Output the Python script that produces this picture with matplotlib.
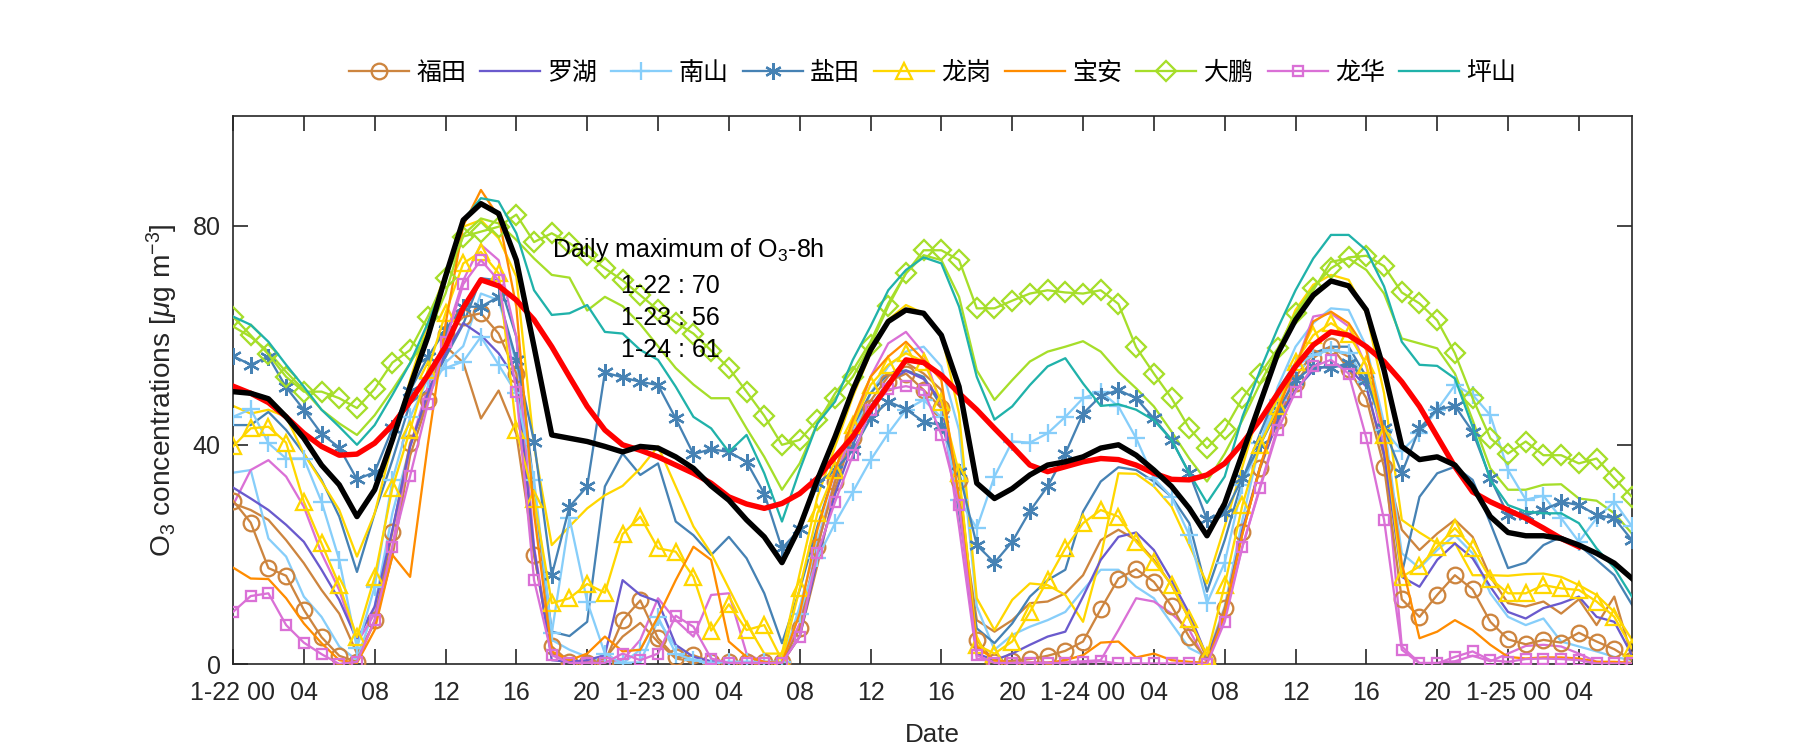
import numpy as np
import matplotlib
matplotlib.use("Agg")
import matplotlib.pyplot as plt

nan = np.nan
hours = list(range(80))

stations = ["福田", "罗湖", "南山", "盐田", "龙岗", "宝安", "大鹏", "龙华", "坪山"]

futian = [29.8, 25.8, 17.5, 16.1, 9.9, 4.9, 1.5, 0.4, 8.0, 24.1, 40.3, 48.1, 60.2, 63.3,
          64.0, 60.3, 53.0, 19.9, 3.2, 0.4, 0.2, 0.4, 8.0, 11.6, 4.7, 1.2, 1.6, 0.4,
          0.3, 0.3, 0.3, 0.3, 6.5, 21.4, 33.3, 41.2, 46.7, 51.5, 53.0, 50.0, 46.7,
          33.6, 4.4, 0.4, 0.6, 0.9, 1.5, 2.4, 4.1, 10.0, 15.6, 17.3, 15.0, 10.6, 4.9,
          0.7, 10.2, 24.1, 35.7, 44.5, 51.2, 55.8, 58.0, 53.8, 48.5, 35.9, 11.8, 8.6, 12.6,
          16.2, 13.6, 7.7, 4.5, 3.6, 4.4, 3.9, 5.7, 4.1, 2.7, 0.7]
luohu = [32.2, 30.2, 28.1, 25.4, 22.3, 17.2, 11.7, 4.4, 10.5, 24.5, 39.7, 49.4, 56.7, 62.2,
         60.0, 56.7, 51.8, 21.0, 0.7, 0.4, 0.7, 1.6, 15.3, 12.6, 11.4, 3.5, 1.3, 0.5,
         0.3, 0.3, 0.3, 0.3, 5.0, 19.0, 31.0, 40.0, 47.0, 51.5, 53.5, 52.0, 48.0,
         30.0, 1.9, 0.7, 1.9, 3.5, 5.0, 5.9, 12.3, 19.0, 23.2, 24.0, 20.8, 15.3, 9.2,
         1.3, 9.2, 24.5, 36.0, 44.5, 50.0, 53.6, 54.6, 54.0, 50.6, 38.4, 15.9, 14.1, 19.0,
         22.0, 19.3, 14.1, 9.5, 8.3, 10.2, 11.1, 12.3, 8.6, 7.7, 1.6]
nanshan = [45.1, 46.5, 40.3, 37.5, 37.5, 29.6, 19.0, 2.9, 14.1, 33.6, 45.0, 52.0, 54.0, 55.2,
           59.7, 54.6, 49.4, 33.6, 5.6, 26.6, 11.4, 1.9, 0.1, 2.6, 8.6, 1.9, 0.7, 0.2,
           0.4, 0.4, 0.4, 0.4, 9.2, 19.3, 25.7, 31.4, 37.2, 42.1, 46.4, 48.2, 45.0,
           30.0, 24.8, 34.2, 40.6, 40.4, 42.1, 45.1, 48.5, 49.7, 47.0, 41.2, 33.9, 30.5, 23.5,
           11.1, 18.5, 32.7, 40.3, 48.2, 54.3, 56.4, 57.3, 56.7, 51.5, 42.7, 38.9, 42.1, 46.4,
           50.9, 49.1, 45.4, 35.4, 30.0, 30.7, 26.6, 22.3, 26.6, 29.6, 25.1]
yantian = [56.2, 54.6, 56.1, 50.5, 46.4, 42.0, 39.5, 33.7, 35.0, 43.0, 49.9, 56.0, 61.0, 65.2,
           65.2, 67.0, 55.5, 40.6, 16.2, 28.7, 32.4, 53.2, 52.3, 51.5, 50.9, 44.8, 38.3, 39.2,
           38.7, 36.9, 31.1, 21.1, 24.6, 33.0, 35.4, 39.0, 44.8, 47.9, 46.5, 44.2, 43.6,
           35.0, 21.7, 18.5, 22.3, 27.9, 32.4, 38.4, 45.7, 48.9, 50.0, 48.5, 44.8, 40.9, 34.8,
           26.4, 27.5, 33.9, 40.0, 46.4, 51.8, 54.3, 54.0, 54.9, 51.8, 43.0, 34.8, 43.0, 46.4,
           47.1, 42.4, 33.9, 27.2, 27.2, 28.1, 29.6, 29.0, 27.2, 26.6, 22.6]
longgang = [39.7, 43.0, 43.3, 40.4, 29.6, 22.0, 14.4, 4.9, 15.9, 32.1, 42.7, 53.6, 64.0, 73.1,
            75.2, 71.3, 42.7, 30.2, 11.1, 12.0, 14.6, 13.0, 23.7, 26.9, 21.1, 20.5, 15.9, 6.1,
            10.9, 6.2, 7.1, 0.7, 13.8, 27.5, 35.4, 43.6, 50.9, 54.6, 56.7, 55.2, 47.9,
            34.8, 3.5, 1.9, 4.1, 9.5, 15.3, 21.1, 25.7, 28.1, 26.9, 22.3, 18.7, 14.4, 8.2,
            1.5, 14.4, 29.0, 40.0, 47.0, 55.2, 60.0, 62.2, 60.2, 54.6, 41.8, 15.9, 17.8, 21.4,
            24.8, 21.1, 15.6, 12.9, 12.9, 14.4, 13.8, 13.5, 11.4, 8.6, 2.9]
baoan = [17.6, 15.6, 15.5, 12.0, 7.4, 3.8, 0.7, 0.2, 6.2, 19.9, 15.9, 40.0, 62.0, 80.0,
         86.5, 81.6, 65.2, 27.5, 2.3, 0.7, 1.9, 5.0, 2.3, 2.6, 8.6, 15.3, 21.4, 19.0,
         4.1, 1.3, 0.4, 0.2, 9.2, 24.5, 35.4, 44.5, 52.4, 56.1, 58.8, 55.5, 51.8,
         30.0, 3.2, 0.7, 0.2, 0.2, 0.2, 0.7, 1.6, 3.9, 4.1, 1.2, 1.9, 0.7, 0.4,
         0.2, 9.2, 23.8, 36.0, 46.4, 54.3, 62.5, 64.3, 62.2, 57.3, 42.1, 18.4, 4.7, 5.9,
         8.0, 6.2, 3.5, 1.3, 1.0, 1.2, 1.2, 1.0, 0.4, 0.4, 0.2]
dapeng = [63.4, 60.0, 56.5, 52.4, 49.7, 49.7, 48.5, 46.7, 50.2, 55.0, 57.3, 63.4, 70.4, 78.0,
          78.9, 79.8, 82.0, 77.0, 78.6, 76.8, 74.6, 72.2, 70.0, 67.3, 64.6, 62.3, 60.3, 57.2,
          54.0, 49.7, 45.3, 40.0, 40.9, 44.5, 48.5, 52.4, 58.2, 65.3, 71.3, 75.5, 75.5,
          73.7, 64.9, 64.9, 66.3, 67.6, 68.2, 67.8, 67.6, 68.2, 65.7, 57.8, 53.0, 48.5, 43.0,
          39.4, 42.8, 48.5, 52.9, 57.6, 64.0, 68.7, 72.2, 74.2, 74.5, 72.6, 67.8, 65.8, 62.7,
          56.7, 48.5, 41.2, 38.4, 40.6, 38.1, 38.1, 36.6, 37.5, 33.9, 30.5]
longhua = [9.5, 12.4, 12.9, 7.1, 3.9, 1.8, 0.0, 0.4, 8.0, 21.4, 34.3, 47.4, 58.8, 69.3,
           73.7, 70.0, 49.7, 15.3, 1.6, 0.2, 0.2, 0.2, 1.9, 0.7, 1.9, 8.8, 6.8, 1.0,
           0.2, 0.2, 0.2, 0.2, 5.0, 20.2, 29.6, 38.1, 46.4, 50.1, 50.7, 50.0, 41.8,
           29.0, 1.6, 0.2, 0.2, 0.2, 0.2, 0.2, 0.3, 0.5, 0.1, 0.1, 0.1, 0.1, 0.1,
           0.0, 7.7, 21.4, 32.1, 42.7, 49.7, 54.3, 55.5, 53.0, 41.2, 26.3, 2.6, 0.1, 0.1,
           1.3, 2.3, 0.7, 0.4, 0.9, 1.0, 0.9, 0.7, 0.1, 0.1, 0.1]
pingshan = [63.4, 61.9, 58.8, 54.6, 50.6, 46.4, 43.3, 40.0, 43.6, 49.1, 54.9, 62.2, 70.0, 81.0,
            85.0, 84.4, 78.6, 68.2, 63.7, 64.0, 65.5, 60.6, 60.3, 57.3, 55.5, 50.6, 45.1, 43.0,
            38.7, 41.8, 34.8, 26.0, 35.4, 43.9, 47.9, 55.5, 61.6, 68.2, 71.9, 74.2, 73.1,
            65.2, 52.4, 44.6, 47.0, 50.9, 54.3, 55.8, 51.2, 47.1, 47.4, 46.4, 44.5, 40.9, 34.8,
            29.4, 34.2, 45.1, 53.6, 61.3, 68.2, 74.0, 78.3, 78.3, 75.5, 68.9, 58.8, 54.6, 54.4,
            52.1, 43.3, 33.6, 29.0, 27.8, 27.5, 27.5, 25.7, 21.1, 17.5, 12.3]

# second (unmarked) set of curves, same colours
futian_b = [29.3, 28.1, 26.3, 22.6, 18.4, 13.5, 9.2, 1.9, 7.4, 19.6, 38.0, 48.0, 58.0, 55.0,
            44.8, 49.9, 42.0, 20.0, 2.0, 0.5, 0.3, 1.0, 5.0, 7.5, 4.0, 1.0, 0.5, 0.3,
            0.2, 0.2, 0.2, 0.2, 5.0, 18.0, 32.0, 42.0, 48.0, 52.5, 55.0, 53.0, 50.0,
            30.0, 8.0, 5.9, 8.0, 11.1, 11.4, 12.9, 16.2, 22.6, 24.5, 22.6, 19.0, 14.4, 8.2,
            1.0, 9.2, 23.8, 36.0, 45.7, 52.4, 56.7, 57.6, 56.1, 50.6, 37.8, 24.5, 20.8, 23.8,
            26.3, 23.2, 15.9, 11.1, 10.5, 11.4, 9.2, 11.8, 7.1, 12.3, 1.3]
nanshan_b = [34.9, 35.4, 22.9, 19.6, 12.3, 8.6, 3.2, 0.7, 10.5, 27.5, 39.7, 48.8, 55.0, 58.0,
             67.6, 66.4, 54.9, 30.0, 4.4, 2.6, 1.3, 0.3, 0.2, 0.3, 8.0, 3.2, 0.5, 0.2,
             0.2, 0.2, 0.2, 0.2, 10.5, 22.6, 33.6, 42.1, 49.4, 54.3, 57.0, 57.9, 54.3,
             42.7, 10.5, 2.6, 5.3, 6.8, 8.0, 9.5, 13.5, 17.2, 17.2, 14.1, 12.0, 7.4, 2.9,
             1.3, 10.5, 26.3, 40.3, 50.6, 57.9, 62.2, 64.9, 64.6, 57.9, 43.9, 20.2, 17.5, 20.8,
             23.5, 20.2, 12.9, 8.6, 7.1, 8.3, 4.1, 3.2, 2.3, 1.3, 0.7]
yantian_b = [43.6, 43.6, 46.0, 42.7, 38.4, 33.6, 26.9, 16.8, 27.5, 37.2, 47.6, 50.0, 56.0, 62.0,
             70.4, 70.0, 59.7, 32.0, 5.9, 5.1, 7.7, 32.4, 38.4, 34.5, 36.6, 26.0, 23.5, 19.9,
             23.2, 19.3, 12.9, 3.8, 13.5, 25.1, 35.4, 43.3, 49.4, 53.0, 53.6, 52.4, 47.0,
             27.5, 6.5, 3.8, 7.4, 12.3, 15.3, 17.2, 27.8, 33.3, 35.9, 35.4, 33.3, 30.5, 25.7,
             13.2, 22.6, 33.6, 42.1, 50.0, 54.9, 56.7, 57.9, 57.9, 52.4, 42.1, 16.5, 30.5, 34.8,
             36.0, 33.6, 25.7, 17.5, 18.5, 21.7, 23.2, 21.7, 19.0, 16.2, 10.8]
longgang_b = [47.1, 45.7, 46.4, 45.1, 38.4, 33.3, 28.1, 19.6, 27.5, 40.3, 51.8, 62.2, 71.3, 79.8,
              81.0, 77.7, 70.7, 39.7, 21.7, 25.1, 28.4, 30.8, 32.5, 35.7, 39.7, 32.4, 25.1, 20.2,
              13.8, 7.4, 1.9, 1.9, 16.5, 30.5, 39.7, 48.8, 56.7, 62.8, 65.5, 64.0, 60.3,
              45.7, 12.0, 6.2, 11.7, 14.7, 14.4, 12.6, 7.7, 19.6, 34.8, 34.7, 32.4, 28.7, 21.7,
              14.7, 25.1, 36.0, 47.0, 57.0, 64.6, 69.2, 71.0, 70.1, 64.0, 49.4, 26.3, 24.0, 22.0,
              22.1, 16.2, 16.2, 16.1, 16.4, 16.5, 15.9, 14.4, 12.6, 9.5, 4.4]
dapeng_b = [61.6, 59.7, 57.0, 53.3, 50.0, 46.4, 43.9, 41.8, 45.4, 50.0, 54.9, 60.3, 67.6, 78.3,
            81.3, 80.4, 77.4, 74.0, 71.0, 70.5, 64.5, 67.0, 65.3, 62.0, 58.0, 54.0, 51.0, 48.5,
            48.5, 43.0, 37.8, 31.8, 36.6, 43.9, 49.4, 53.6, 58.8, 65.8, 71.3, 74.6, 73.7,
            67.0, 53.6, 48.2, 51.8, 55.2, 57.0, 57.9, 58.9, 57.0, 53.3, 50.3, 47.0, 42.4, 37.5,
            33.3, 38.4, 44.5, 51.2, 57.3, 63.4, 68.2, 73.4, 74.0, 71.9, 67.6, 59.4, 58.5, 57.6,
            53.0, 44.5, 35.7, 31.8, 31.8, 32.7, 32.8, 30.2, 29.8, 27.5, 23.8]
longhua_b = [29.0, 35.4, 37.2, 34.2, 28.7, 20.2, 13.5, 3.8, 9.2, 21.4, 39.7, 50.6, 59.7, 70.0,
             76.5, 73.7, 59.7, 21.4, 1.9, 0.3, 0.3, 0.5, 0.7, 4.4, 12.0, 8.0, 5.0, 12.6,
             12.9, 1.9, 0.3, 0.3, 7.4, 21.4, 33.6, 43.3, 52.4, 58.5, 60.6, 56.7, 47.0,
             25.0, 1.0, 0.3, 0.3, 0.3, 0.3, 0.3, 0.5, 0.7, 6.2, 12.0, 11.4, 9.2, 6.2,
             0.2, 8.6, 21.4, 32.4, 43.3, 54.3, 63.4, 64.0, 61.6, 54.3, 39.7, 3.2, 0.2, 0.2,
             0.5, 1.5, 0.5, 1.9, 3.3, 3.5, 3.2, 1.9, 0.4, 0.2, 0.2]

# city average and its 8-h running mean
city_mean = [49.7, 49.4, 48.4, 45.1, 41.2, 36.3, 32.7, 26.9, 31.8, 40.9, 50.6, 59.7, 70.7, 81.0,
             84.0, 82.2, 73.7, 57.9, 41.8, 41.2, 40.6, 39.7, 38.7, 39.7, 39.4, 37.8, 35.7, 32.5,
             29.9, 26.3, 23.2, 18.5, 25.0, 33.6, 41.5, 50.0, 57.3, 62.5, 64.6, 64.0, 60.0,
             50.6, 33.0, 30.2, 32.0, 34.5, 36.3, 36.9, 37.8, 39.4, 40.0, 38.1, 35.4, 32.4, 28.4,
             23.4, 29.3, 38.4, 47.6, 56.7, 62.8, 67.3, 69.9, 69.0, 64.6, 53.6, 39.7, 37.3, 37.8,
             36.3, 32.4, 26.9, 24.0, 23.4, 23.4, 22.9, 21.7, 20.2, 18.4, 15.6]
o3_8h = [50.7, 49.4, 47.7, 45.1, 42.1, 39.7, 38.1, 38.3, 40.3, 43.6, 47.9, 52.7, 57.9, 65.0,
         70.1, 69.0, 66.4, 62.8, 57.9, 52.4, 47.0, 42.7, 40.0, 39.0, 37.8, 36.3, 34.8, 33.0,
         30.5, 29.2, 28.4, 29.3, 31.1, 33.9, 37.8, 41.5, 46.4, 50.9, 55.5, 55.0, 52.7,
         49.4, 46.4, 43.0, 39.7, 36.3, 35.1, 36.0, 36.9, 37.5, 37.3, 36.3, 34.8, 33.7, 33.6,
         34.5, 36.6, 40.3, 44.5, 49.4, 54.3, 58.2, 60.6, 60.0, 57.9, 55.2, 51.5, 47.0, 41.5,
         36.0, 31.4, 29.6, 28.1, 26.6, 24.8, 22.9, 21.4, nan, nan, nan]

daily_max_days = ["1-22", "1-23", "1-24"]
daily_max_vals = [70, 56, 61]

tick_hours = list(range(0, 80, 4))
tick_labels = [f"1-{22 + h // 24} 00" if h % 24 == 0 else f"{h % 24:02d}" for h in tick_hours]

# ---------------- styling ----------------
plt.rcParams['font.family'] = ['Liberation Sans', 'Noto Sans CJK SC', 'DejaVu Sans']
plt.rcParams['mathtext.fontset'] = 'custom'
plt.rcParams['mathtext.rm'] = 'Liberation Sans'
plt.rcParams['mathtext.it'] = 'Liberation Sans:italic'
plt.rcParams['mathtext.bf'] = 'Liberation Sans:bold'
plt.rcParams['font.size'] = 12

col = {"福田": "#CD853F", "罗湖": "#6A5ACD", "南山": "#87CEFA", "盐田": "#4682B4",
       "龙岗": "#FFD700", "宝安": "#FF8C00", "大鹏": "#A6DE2A", "龙华": "#DA70D6",
       "坪山": "#20B2AA"}
mk = {"福田": ("o", 7.5), "罗湖": (None, 0), "南山": ("+", 9), "盐田": ((6, 2, 0), 8),
      "龙岗": ("^", 7.5), "宝安": (None, 0), "大鹏": ("D", 6.5), "龙华": ("s", 5),
      "坪山": (None, 0)}

series = {"福田": futian, "罗湖": luohu, "南山": nanshan, "盐田": yantian, "龙岗": longgang,
          "宝安": baoan, "大鹏": dapeng, "龙华": longhua, "坪山": pingshan}
series_b = {"福田": futian_b, "南山": nanshan_b, "盐田": yantian_b, "龙岗": longgang_b,
            "大鹏": dapeng_b, "龙华": longhua_b}

fig = plt.figure(figsize=(12, 5), dpi=150)
ax = fig.add_axes([233 / 1800, 1 - 664 / 750, (1632 - 233) / 1800, (664 - 116) / 750])

lw = 1.1
for name, vals in series_b.items():
    ax.plot(hours, vals, color=col[name], lw=lw, zorder=2)

handles = []
for name in stations:
    m, ms = mk[name]
    h, = ax.plot(hours, series[name], color=col[name], lw=lw, marker=m, ms=ms,
                 mfc='none', mec=col[name], mew=1.1, label=name, zorder=3)
    handles.append(h)

ax.plot(hours, o3_8h, color='#FF0000', lw=2.6, zorder=4)
ax.plot(hours, city_mean, color='black', lw=2.6, zorder=5)

ax.set_xlim(0, 79)
ax.set_ylim(0, 100)
ax.set_xticks(tick_hours)
ax.set_xticklabels(tick_labels)
ax.set_yticks([0, 40, 80])
ax.tick_params(direction='in', length=7, width=0.8, top=True, right=True,
               colors='#262626', labelsize=12, pad=6)
ax.tick_params(axis='x', pad=8)
for s in ax.spines.values():
    s.set_color('#262626')
    s.set_linewidth(0.8)

ax.set_xlabel('Date', fontsize=12.5, color='#262626', labelpad=9)
ax.set_ylabel(r'O$_3$ concentrations [$\mu$g m$^{-3}$]', fontsize=13.5, color='#262626', labelpad=6)

ax.text(18.0, 75.5, r'Daily maximum of O$_3$-8h', fontsize=12, va='center', ha='left', zorder=6)
for i, (d, v) in enumerate(zip(daily_max_days, daily_max_vals)):
    ax.text(21.9, 69.0 - 5.85 * i, f"{d} : {v}", fontsize=12, va='center', ha='left', zorder=6)

ax.legend(handles=handles, loc='center', bbox_to_anchor=(0.5, 1 + 43 / 548), ncol=9,
          frameon=False, handlelength=2.4, handletextpad=0.3,
          columnspacing=0.55, prop={'family': ['Noto Sans CJK SC'], 'size': 12})

fig.savefig('out.png', dpi=150)
